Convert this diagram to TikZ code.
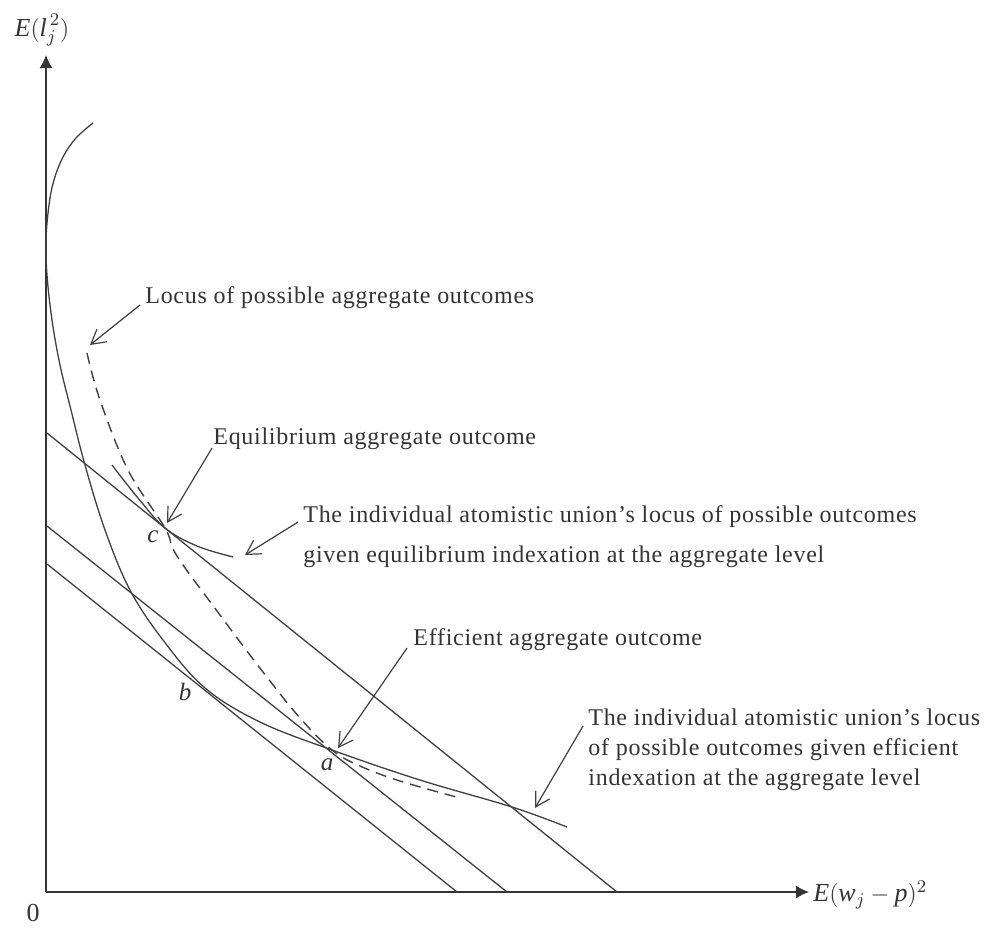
\documentclass[tikz,border=0pt]{standalone}
\usepackage{fontspec}
\setmainfont{Liberation Serif}
\newfontfamily\notefont[LetterSpace=3, Ligatures=TeX]{Liberation Serif}
\usetikzlibrary{arrows.meta}

\begin{document}
\begin{tikzpicture}[x=0.5pt, y=-0.5pt,
    axis/.style={draw=black!80, line width=0.7pt, -{Latex[length=6.5pt,width=6.5pt]}},
    curve/.style={draw=black!75, line width=0.65pt},
    loss/.style={draw=black!75, line width=0.65pt},
    aggr/.style={draw=black!75, line width=0.7pt, dash pattern=on 5.5pt off 3.5pt},
    lbl/.style={inner sep=0pt, font=\notefont\fontsize{12}{15}\selectfont, text=black!80, align=left},
    ax/.style={inner sep=0pt, font=\fontsize{13}{15}\selectfont, text=black!80},
    pt/.style={inner sep=0pt, font=\fontsize{12.5}{14}\selectfont\itshape, text=black!80},
    note/.style={draw=black!75, line width=0.6pt, -{Straight Barb[length=7pt,width=8pt]}}
]
\useasboundingbox (0,0) rectangle (988,927);

% axes
\coordinate (O)    at (46,892);
\coordinate (ytop) at (46,55);
\coordinate (xend) at (809,892);
\draw[axis] (O) -- (ytop);
\draw[axis] (O) -- (xend);
\node[ax] (ylab) at (42,30) {$\textit{E}(\textit{l}^{\,2}_{j})$};
\node[ax, anchor=west] (xlab) at (813,895) {$\textit{E}(\textit{w}_{j}-\textit{p})^{2}$};
\node[ax] (zero) at (33,913) {0};

% iso-loss lines
\draw[loss] (47,433) -- (617,892);
\draw[loss] (47,526) -- (507,892);
\draw[loss] (47,564) -- (457,892);

% individual locus, efficient indexation
\draw[curve] plot[smooth, tension=0.6] coordinates {(93,123) (76,138) (63,157) (54,180) (49,205) (46,240)
    (47,275) (52,320) (60,365) (71,410) (85,465) (105,530) (130,590) (163,640) (205,688) (260,722)
    (332,750) (420,780) (512,807) (567,827)};
% individual locus, equilibrium indexation
\draw[curve] plot[smooth, tension=0.6] coordinates {(112,465) (138,498) (165,528) (197,546) (233,557)};
% aggregate locus
\draw[aggr] plot[smooth, tension=0.6] coordinates {(87,353) (100,400) (128,470) (165,528) (177,556)
    (220,615) (263,672) (300,718) (332,750) (360,766) (400,781) (460,798)};

% points
\node[pt] (c) at (153,537) {c};
\node[pt] (b) at (185,692) {b};
\node[pt] (a) at (327,765) {a};

% labels
\node[lbl, anchor=west] (locus) at (145,298) {Locus of possible aggregate outcomes};
\node[lbl, anchor=west] (equil) at (213,439) {Equilibrium aggregate outcome};
\node[lbl, anchor=north west] (indeq) at (303,505)
    {The individual atomistic union's locus of possible outcomes\\[5pt]given equilibrium indexation at the aggregate level};
\node[lbl, anchor=west] (effic) at (413,640) {Efficient aggregate outcome};
\node[lbl, anchor=north west] (indef) at (588,708)
    {The individual atomistic union's locus\\of possible outcomes given efficient\\indexation at the aggregate level};

% pointers
\coordinate (locusT) at (90,345);
\coordinate (equilT) at (167,523);
\coordinate (indeqT) at (245,555);
\coordinate (efficT) at (338,748);
\coordinate (indefT) at (535,808);
\draw[note] (140,305) -- (locusT);
\draw[note] (212,448) -- (equilT);
\draw[note] (298,522) -- (indeqT);
\draw[note] (407,648) -- (efficT);
\draw[note] (583,726) -- (indefT);

\end{tikzpicture}
\end{document}
